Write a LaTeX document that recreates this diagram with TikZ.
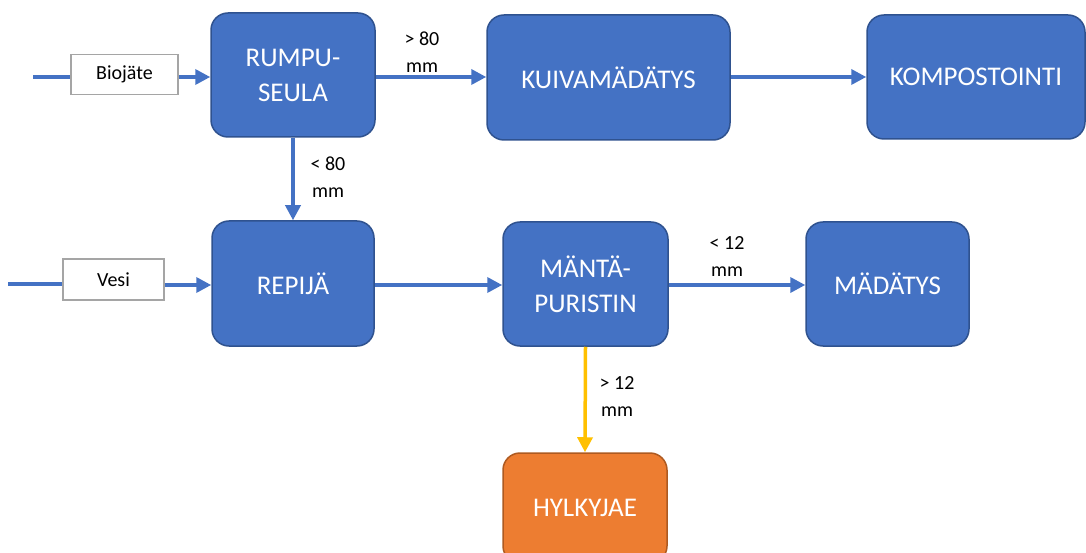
\documentclass[tikz,border=0pt]{standalone}
\usepackage{fontspec}
\setmainfont{Carlito}
\usetikzlibrary{arrows.meta}
\definecolor{procblue}{HTML}{4472C4}
\definecolor{procedge}{HTML}{2F528F}
\definecolor{rejfill}{HTML}{ED7D31}
\definecolor{rejedge}{HTML}{AE5A21}
\definecolor{rejline}{HTML}{FFC000}
\definecolor{inedge}{HTML}{A5A5A5}
\tikzset{
  proc/.style={draw=procedge, line width=1.5pt, fill=procblue, rounded corners=17pt,
    text=white, font=\fontsize{27}{35}\selectfont, align=center, inner sep=0pt},
  reject/.style={proc, draw=rejedge, fill=rejfill},
  inbox/.style={draw=inedge, line width=1.5pt, fill=white, font=\fontsize{20}{24}\selectfont,
    inner sep=0pt},
  flow/.style={draw=procblue, line width=3.5pt, -{Triangle[length=15pt,width=15pt]}},
  plain/.style={draw=procblue, line width=3.5pt},
  rejflow/.style={flow, draw=rejline, -{Triangle[length=15pt,width=15pt,fill=rejline]}},
  lbl/.style={font=\fontsize{20}{27}\selectfont, align=center, inner sep=0pt}
}
\begin{document}
\begin{tikzpicture}[x=1pt,y=-1pt]
\useasboundingbox (0,0) rectangle (1086,553);
\clip (0,0) rectangle (1086,553);
% process boxes
\node[proc, minimum width=164pt, minimum height=124pt] (rump) at (293,75) {RUMPU-\\SEULA};
\node[proc, minimum width=243pt, minimum height=125pt] (kuiva) at (608.5,77.5) {KUIVAMÄDÄTYS};
\node[proc, minimum width=218pt, minimum height=124pt] (komp) at (976,77) {KOMPOSTOINTI};
\node[proc, minimum width=162pt, minimum height=125pt] (rep) at (293,283.5) {REPIJÄ};
\node[proc, minimum width=165pt, minimum height=124pt] (mant) at (585.5,284) {MÄNTÄ-\\PURISTIN};
\node[proc, minimum width=163pt, minimum height=124pt] (mad) at (887.5,284) {MÄDÄTYS};
\node[reject, minimum width=164pt, minimum height=110pt] (hylk) at (585,508) {HYLKYJAE};
% input boxes
\node[inbox, minimum width=107pt, minimum height=40pt] (bio) at (124.5,74.5) {Biojäte};
\node[inbox, minimum width=101pt, minimum height=41pt] (vesi) at (113.5,279.5) {Vesi};
\coordinate (bioin) at (33,77);
\coordinate (vesiin) at (8,284);
% inflows
\draw[plain] (bioin) -- (bioin -| bio.west);
\draw[flow] (bio.east |- bioin) -- (bioin -| rump.west);
\draw[plain] (vesiin) -- (vesiin -| vesi.west);
\draw[flow] (vesi.east |- 0,285) -- (rep.west |- 0,285);
% process flows
\draw[flow] (rump.east |- 0,77) -- (kuiva.west |- 0,77);
\draw[flow] (kuiva.east |- 0,77) -- (komp.west |- 0,77);
\draw[flow] (rump.south) -- (rep.north);
\draw[flow] (rep.east |- 0,285) -- (mant.west |- 0,285);
\draw[flow] (mant.east |- 0,285) -- (mad.west |- 0,285);
\draw[rejflow] (mant.south) -- (hylk.north);
% labels
\node[lbl] (l1) at (422,52) {> 80\\mm};
\node[lbl] (l2) at (328,177) {< 80\\mm};
\node[lbl] (l3) at (727,257) {< 12\\mm};
\node[lbl] (l4) at (617,397) {> 12\\mm};
\end{tikzpicture}
\end{document}
